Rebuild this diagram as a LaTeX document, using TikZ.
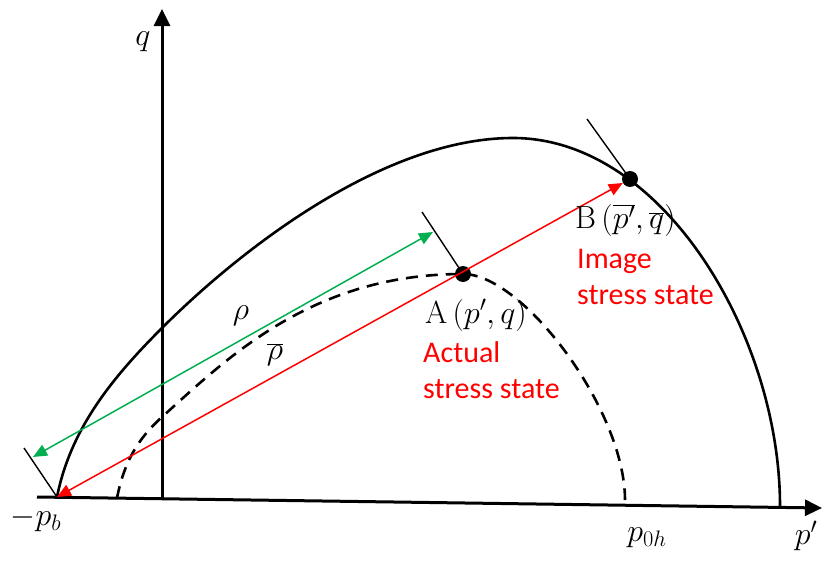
\documentclass[tikz,border=0pt]{standalone}
\usepackage{fix-cm}
\usepackage{fontspec}
\newfontfamily\labfont{Carlito}
\usetikzlibrary{arrows.meta}
\definecolor{myred}{RGB}{255,0,0}
\definecolor{mygreen}{RGB}{0,176,80}
\begin{document}
\begin{tikzpicture}[x=1pt,y=-1pt,
  axis/.style={line width=3pt,-{Triangle[length=17pt,width=16pt]}},
  curve/.style={line width=2.6pt},
  dcurve/.style={line width=2.6pt,dash pattern=on 12pt off 8pt},
  tang/.style={line width=1.4pt},
  redarr/.style={myred,line width=1.5pt,{Triangle[length=14pt,width=12pt]}-{Triangle[length=14pt,width=12pt]}},
  greenarr/.style={mygreen,line width=1.5pt,{Triangle[length=14pt,width=12pt]}-{Triangle[length=14pt,width=12pt]}},
  dot/.style={circle,fill=black,inner sep=0pt,minimum size=16pt},
  mlab/.style={font=\fontsize{32}{36}\selectfont,inner sep=0pt},
  tlab/.style={font=\labfont\fontsize{30}{36}\selectfont,text=myred,inner sep=0pt,align=left,anchor=north west}]
\useasboundingbox (0,0) rectangle (823,562);
% axes
\coordinate (xs) at (37,497);
\coordinate (xe) at (822,508);
\coordinate (ys) at (162,498);
\coordinate (ye) at (162,9);
\draw[axis] (xs) -- (xe);
\draw[axis] (ys) -- (ye);
% outer yield surface
\draw[curve] (57,497) .. controls (70.7,428.3) and (112.5,377.5) .. (162,328)
  .. controls (239.8,250.2) and (383,138) .. (513,138)
  .. controls (663,138) and (780,336) .. (780,506);
% dashed loading surface
\draw[dcurve] (117,498) .. controls (123.9,463.7) and (136.1,440.5) .. (162,417)
  .. controls (228.6,356.7) and (313,274) .. (463,274)
  .. controls (523,274) and (625,410) .. (625,500);
% points
\coordinate (pb) at (57,497);
\coordinate (t0) at (24,448);
\coordinate (tA) at (422,212);
\coordinate (tB) at (587,119);
\coordinate (g1) at (33,457);
\coordinate (g2) at (433,232);
\node[dot] (A) at (463,274) {};
\node[dot] (B) at (630,179) {};
\draw[tang] (t0) -- (pb);
\draw[tang] (tA) -- (A.center);
\draw[tang] (tB) -- (B.center);
\draw[greenarr] (g1) -- (g2);
\draw[redarr] (pb) -- (B);
% labels
\node[mlab] (lq) at (143,42) {$q$};
\node[mlab] (lpb) at (36,519) {$-p_b$};
\node[mlab] (lp0h) at (647,538) {$p_{0h}$};
\node[mlab] (lpp) at (806,536) {$p'$};
\node[mlab] (lrho) at (241,316) {$\rho$};
\node[mlab] (lrhob) at (275,355) {$\overline{\rho}$};
\node[mlab] (lA) at (476,315) {$\mathrm{A}\left(p',q\right)$};
\node[mlab,anchor=west] (lB) at (575,220) {$\mathrm{B}\left(\overline{p'},\overline{q}\right)$};
\node[tlab] (tAct) at (423,341) {Actual\\stress state};
\node[tlab] (tIm) at (577,249) {Image\\stress state};
\end{tikzpicture}
\end{document}
